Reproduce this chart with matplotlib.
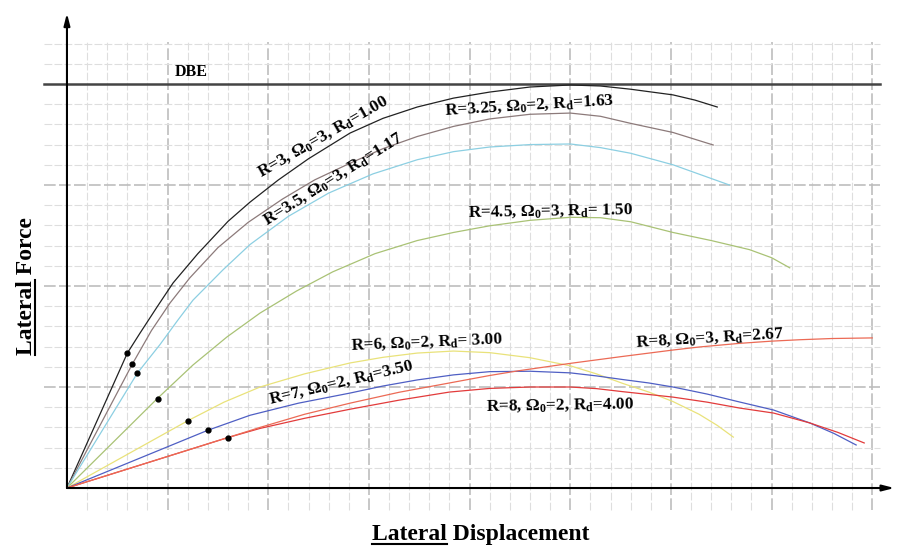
import matplotlib.pyplot as plt
from matplotlib.lines import Line2D

plt.rcParams['font.family'] = ['Liberation Serif', 'DejaVu Serif']
plt.rcParams['mathtext.fontset'] = 'custom'
plt.rcParams['mathtext.rm'] = 'Liberation Serif:bold'
plt.rcParams['mathtext.it'] = 'Liberation Serif:bold'
plt.rcParams['mathtext.bf'] = 'Liberation Serif:bold'

# pushover curves (1 unit = 1 minor grid square)
r3_x = [0, 3.0, 3.63, 4.5, 5.27, 6.5, 8.0, 9.09, 10.5, 12.0, 14.06, 15.7, 17.4, 19.2,
        21.0, 23.0, 25.0, 26.5, 28.0, 30.1, 31.2, 32.3]
r3_y = [0, 6.68, 7.67, 9.0, 10.15, 11.6, 13.2, 14.15, 15.25, 16.3, 17.57, 18.3, 18.86, 19.3,
        19.6, 19.85, 19.95, 19.9, 19.74, 19.46, 19.2, 18.86]

r325_x = [0, 3.25, 4.2, 5.12, 6.1, 7.5, 9.0, 10.7, 12.3, 14.0, 15.7, 17.4, 19.2, 21.0,
          23.0, 25.0, 26.5, 28.0, 30.1, 32.1]
r325_y = [0, 6.14, 7.8, 9.16, 10.4, 11.9, 13.15, 14.3, 15.25, 16.05, 16.8, 17.4, 17.9, 18.27,
          18.5, 18.56, 18.4, 18.05, 17.6, 16.98]

r35_x = [0, 3.5, 4.62, 5.5, 6.26, 7.75, 9.09, 11.0, 13.0, 15.2, 17.4, 19.2, 21.0, 23.0,
         25.0, 26.5, 28.0, 30.1, 31.5, 32.9]
r35_y = [0, 5.69, 7.1, 8.3, 9.3, 10.8, 12.05, 13.45, 14.6, 15.55, 16.25, 16.65, 16.88, 17.0,
         17.03, 16.85, 16.57, 16.0, 15.5, 15.0]

r45_x = [0, 4.5, 6.26, 7.95, 9.59, 11.4, 13.2, 15.3, 17.4, 19.2, 21.0, 23.0, 25.0, 26.5,
         28.0, 30.1, 32.0, 33.9, 35.0, 35.9]
r45_y = [0, 4.44, 6.09, 7.48, 8.66, 9.75, 10.7, 11.6, 12.25, 12.65, 12.98, 13.25, 13.4, 13.38,
         13.18, 12.65, 12.25, 11.8, 11.4, 10.9]

r6_x = [0, 6.0, 7.8, 9.59, 11.8, 14.06, 15.7, 17.4, 19.2, 21.0, 23.0, 25.0, 26.3, 27.6,
        28.9, 30.1, 31.4, 32.3, 33.1]
r6_y = [0, 3.33, 4.25, 5.0, 5.65, 6.19, 6.47, 6.68, 6.78, 6.7, 6.45, 6.05, 5.65, 5.18,
        4.75, 4.28, 3.65, 3.1, 2.52]

r7_x = [0, 7.0, 9.09, 11.5, 14.06, 15.7, 17.4, 19.2, 21.0, 23.0, 25.0, 26.3, 27.6, 28.9,
        30.1, 31.8, 33.4, 35.1, 36.9, 38.1, 39.2]
r7_y = [0, 2.86, 3.6, 4.2, 4.7, 5.05, 5.35, 5.6, 5.76, 5.78, 5.7, 5.55, 5.37, 5.2,
        5.0, 4.65, 4.26, 3.86, 3.22, 2.7, 2.13]

r8a_x = [0, 8.0, 9.59, 11.8, 14.06, 16.5, 19.0, 21.0, 23.0, 25.0, 26.3, 27.6, 30.1, 31.8,
         33.4, 35.1, 36.9, 38.3, 39.6]
r8a_y = [0, 2.5, 2.95, 3.45, 3.9, 4.35, 4.75, 4.93, 5.0, 5.0, 4.92, 4.77, 4.5, 4.25,
         3.96, 3.71, 3.22, 2.75, 2.23]

r8b_x = [0, 8.0, 9.59, 11.8, 14.06, 16.5, 19.0, 21.0, 22.4, 25.0, 27.5, 30.1, 31.4, 33.4,
         35.0, 36.4, 38.0, 40.0]
r8b_y = [0, 2.5, 3.0, 3.65, 4.2, 4.74, 5.2, 5.57, 5.8, 6.17, 6.5, 6.83, 6.98, 7.16,
         7.27, 7.34, 7.4, 7.43]

# yield points
yield_x = [3, 3.25, 3.5, 4.5, 6, 7, 8]
yield_y = [6.68, 6.14, 5.69, 4.41, 3.33, 2.87, 2.48]

dbe = 20

fig = plt.figure(figsize=(9, 5.46), dpi=100)
ax = fig.add_axes([0.04756, 0.0507, 0.9507, 0.9361])
ax.set_xlim(-1.2, 41.3)
ax.set_ylim(-1.5, 23.8)
ax.axis('off')

# grid paper
for gx in range(1, 41):
    major = gx % 5 == 0
    ax.plot([gx, gx], [-1.1, 22.1], color='#bdbdbd' if major else '#dedede',
            lw=1.2 if major else 0.8, ls=(0, (7, 2)), zorder=0)
for gy in range(1, 23):
    if gy == dbe:
        continue
    major = gy % 5 == 0
    ax.plot([-1.15, 40.4], [gy, gy], color='#bdbdbd' if major else '#dedede',
            lw=1.2 if major else 0.8, ls=(0, (7, 2)), zorder=0)

ax.plot([-1.15, 40.4], [dbe, dbe], color='#444444', lw=1.8, zorder=1)
ax.text(5.37, 20.2, 'DBE', fontsize=11.5, fontweight='bold', va='bottom')

# axes with arrows
arr = dict(arrowstyle='-|>,head_length=0.7,head_width=0.18', color='black', lw=1.5,
           shrinkA=0, shrinkB=0)
ax.annotate('', xy=(41.1, 0), xytext=(0, 0), arrowprops=arr)
ax.annotate('', xy=(0, 23.5), xytext=(0, 0), arrowprops=arr)

curve = dict(lw=0.9, solid_joinstyle='round')
ax.plot(r3_x, r3_y, color='#222222', **curve)
ax.plot(r325_x, r325_y, color='#8c7a7a', **curve)
ax.plot(r35_x, r35_y, color='#8ccfe2', **curve)
ax.plot(r45_x, r45_y, color='#a9c275', **curve)
ax.plot(r6_x, r6_y, color='#e9e27a', **curve)
ax.plot(r7_x, r7_y, color='#4f5fc4', **curve)
ax.plot(r8a_x, r8a_y, color='#e23b3b', **curve)
ax.plot(r8b_x, r8b_y, color='#ec6a55', **curve)
ax.plot(yield_x, yield_y, 'o', color='black', ms=3.5, zorder=5)

lab = dict(fontsize=12.4, fontweight='bold', ha='center', va='center', rotation_mode='anchor')
ax.text(12.7, 17.4, r'R=3, Ω$_0$=3, R$_d$=1.00', rotation=30, **lab)
ax.text(22.95, 18.95, r'R=3.25, Ω$_0$=2, R$_d$=1.63', rotation=3.5, **lab)
ax.text(13.2, 15.3, r'R=3.5, Ω$_0$=3, R$_d$=1.17', rotation=32, **lab)
ax.text(24.0, 13.7, r'R=4.5, Ω$_0$=3, R$_d$= 1.50', rotation=1, **lab)
ax.text(17.85, 7.23, r'R=6, Ω$_0$=2, R$_d$= 3.00', rotation=2.5, **lab)
ax.text(13.6, 5.2, r'R=7, Ω$_0$=2, R$_d$=3.50', rotation=13.5, **lab)
ax.text(24.5, 4.1, r'R=8, Ω$_0$=2, R$_d$=4.00', rotation=1, **lab)
ax.text(31.9, 7.43, r'R=8, Ω$_0$=3, R$_d$=2.67', rotation=3.5, **lab)

# axis titles, with "Lateral" underlined
W, H = 900, 546
fig.canvas.draw()
rend = fig.canvas.get_renderer()
ttl = dict(fontsize=17, fontweight='bold')
tmp = fig.text(0, 0, 'Lateral', **ttl)
w_lat = tmp.get_window_extent(rend).width
tmp.remove()

xt = fig.text(481 / W, 6 / H, 'Lateral Displacement', ha='center', va='baseline', **ttl)
bb = xt.get_window_extent(rend)
fig.add_artist(Line2D([bb.x0 / W, (bb.x0 + w_lat) / W], [2 / H, 2 / H], color='black', lw=1.5))

yt = fig.text(32 / W, (H - 286) / H, 'Lateral Force', ha='center', va='baseline',
              rotation=90, rotation_mode='anchor', **ttl)
bb = yt.get_window_extent(rend)
fig.add_artist(Line2D([35 / W, 35 / W], [bb.y0 / H, (bb.y0 + w_lat) / H], color='black', lw=1.5))

fig.savefig('out.png', dpi=100)
